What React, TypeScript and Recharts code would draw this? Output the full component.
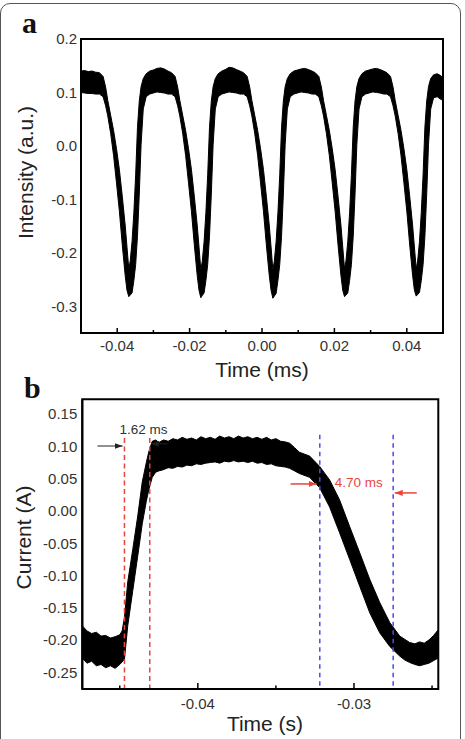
import React from 'react';
import {
  ComposedChart,
  Area,
  XAxis,
  YAxis,
  ReferenceLine,
  ReferenceArea,
  ReferenceDot,
  Label,
} from 'recharts';

// ---------- Panel a: intensity trace (time in ms), lower / upper edge of the noisy band ----------
const intensityTime = [
  -0.05, -0.049, -0.048, -0.047, -0.046,
  -0.0449, -0.0439, -0.0432, -0.0426, -0.0418, -0.041, -0.0402, -0.0394, -0.0386, -0.0378, -0.0373,
  -0.0368, -0.0364, -0.0359, -0.0354, -0.0349, -0.0344, -0.0339, -0.0334, -0.0328, -0.032, -0.031,
  -0.03, -0.029, -0.028, -0.027, -0.026,
  -0.025, -0.024, -0.0233, -0.0227, -0.0219, -0.0211, -0.0203, -0.0195, -0.0187, -0.0179, -0.0174,
  -0.0169, -0.0165, -0.016, -0.0155, -0.015, -0.0145, -0.014, -0.0135, -0.0129, -0.0121, -0.0111,
  -0.0101, -0.0091, -0.0081, -0.0071, -0.0061,
  -0.0051, -0.0041, -0.0034, -0.0028, -0.002, -0.0012, -0.0004, 0.0004, 0.0012, 0.002, 0.0025,
  0.003, 0.0034, 0.0039, 0.0044, 0.0049, 0.0054, 0.0059, 0.0064, 0.007, 0.0078, 0.0088,
  0.0098, 0.0108, 0.0118, 0.0128, 0.0138,
  0.0147, 0.0157, 0.0164, 0.017, 0.0178, 0.0186, 0.0194, 0.0202, 0.021, 0.0218, 0.0223,
  0.0228, 0.0232, 0.0237, 0.0242, 0.0247, 0.0252, 0.0257, 0.0262, 0.0268, 0.0276, 0.0286,
  0.0296, 0.0306, 0.0316, 0.0326, 0.0336,
  0.0345, 0.0355, 0.0362, 0.0368, 0.0376, 0.0384, 0.0392, 0.04, 0.0408, 0.0416, 0.0421,
  0.0426, 0.043, 0.0435, 0.044, 0.0445, 0.045, 0.0455, 0.046, 0.0466, 0.0474, 0.0484,
  0.0492, 0.05,
];
const intensityLower = [
  0.1, 0.099, 0.098, 0.098, 0.097,
  0.097, 0.092, 0.075, 0.056, 0.023, -0.018, -0.069, -0.122, -0.185, -0.242, -0.27,
  -0.282, -0.279, -0.275, -0.252, -0.222, -0.169, -0.09, 0.003, 0.069, 0.092, 0.097,
  0.099, 0.101, 0.1, 0.099, 0.097,
  0.097, 0.092, 0.075, 0.056, 0.023, -0.018, -0.069, -0.122, -0.185, -0.242, -0.27,
  -0.284, -0.28, -0.275, -0.252, -0.222, -0.169, -0.09, 0.003, 0.069, 0.092, 0.097,
  0.099, 0.101, 0.1, 0.099, 0.097,
  0.097, 0.092, 0.075, 0.056, 0.023, -0.018, -0.069, -0.122, -0.185, -0.242, -0.27,
  -0.285, -0.281, -0.276, -0.252, -0.222, -0.169, -0.09, 0.003, 0.069, 0.092, 0.097,
  0.099, 0.101, 0.1, 0.099, 0.097,
  0.097, 0.092, 0.075, 0.056, 0.023, -0.018, -0.069, -0.122, -0.185, -0.242, -0.27,
  -0.282, -0.279, -0.275, -0.252, -0.222, -0.169, -0.09, 0.003, 0.069, 0.092, 0.097,
  0.099, 0.101, 0.1, 0.099, 0.097,
  0.097, 0.092, 0.075, 0.056, 0.023, -0.018, -0.069, -0.122, -0.185, -0.242, -0.27,
  -0.281, -0.278, -0.274, -0.252, -0.222, -0.169, -0.09, 0.003, 0.069, 0.09, 0.092,
  0.088, 0.085,
];
const intensityUpper = [
  0.14, 0.141, 0.139, 0.14, 0.138,
  0.137, 0.13, 0.11, 0.085, 0.057, 0.029, -0.005, -0.044, -0.094, -0.148, -0.189,
  -0.23, -0.215, -0.179, -0.125, -0.054, 0.035, 0.084, 0.111, 0.126, 0.135, 0.14,
  0.142, 0.145, 0.146, 0.144, 0.14,
  0.137, 0.13, 0.11, 0.085, 0.057, 0.029, -0.005, -0.044, -0.094, -0.148, -0.189,
  -0.232, -0.216, -0.179, -0.125, -0.054, 0.035, 0.084, 0.111, 0.126, 0.135, 0.14,
  0.143, 0.147, 0.146, 0.143, 0.14,
  0.137, 0.13, 0.11, 0.085, 0.057, 0.029, -0.005, -0.044, -0.094, -0.148, -0.189,
  -0.232, -0.216, -0.179, -0.125, -0.054, 0.035, 0.084, 0.111, 0.126, 0.135, 0.14,
  0.142, 0.144, 0.145, 0.143, 0.14,
  0.137, 0.13, 0.11, 0.085, 0.057, 0.029, -0.005, -0.044, -0.094, -0.148, -0.189,
  -0.23, -0.215, -0.179, -0.125, -0.054, 0.035, 0.084, 0.111, 0.126, 0.135, 0.14,
  0.142, 0.144, 0.145, 0.143, 0.14,
  0.137, 0.13, 0.11, 0.085, 0.057, 0.029, -0.005, -0.044, -0.094, -0.148, -0.189,
  -0.23, -0.215, -0.179, -0.125, -0.054, 0.035, 0.084, 0.111, 0.126, 0.133, 0.135,
  0.132, 0.128,
];
const intensityTicksX = [-0.04, -0.03, -0.02, -0.01, 0, 0.01, 0.02, 0.03, 0.04];
const intensityLabelledX = [-0.04, -0.02, 0, 0.02, 0.04];
const intensityTicksY = [-0.3, -0.2, -0.1, 0, 0.1, 0.2];

// ---------- Panel b: current trace (time in s), lower / upper edge of the noisy band ----------
const currentTime = [
  -0.0474, -0.0471, -0.0468, -0.0465, -0.0462, -0.0459, -0.0456, -0.0453, -0.045, -0.04485,
  -0.0447, -0.04449, -0.04417, -0.04385, -0.04356, -0.0433, -0.04314, -0.04292, -0.0427,
  -0.0425, -0.0422, -0.0419, -0.0416, -0.0413, -0.041, -0.0407, -0.0404, -0.0401, -0.0398,
  -0.0395, -0.0392, -0.0389, -0.0386, -0.0383, -0.038, -0.0377, -0.0374, -0.0371, -0.0368,
  -0.0365, -0.0362, -0.0359, -0.0356, -0.0353, -0.035, -0.0347, -0.0344, -0.03412,
  -0.0338, -0.0335, -0.03284, -0.0322, -0.03156, -0.03092, -0.03028, -0.02963, -0.02899, -0.02835,
  -0.02771, -0.02707, -0.02675, -0.02643, -0.0261, -0.0258, -0.0255, -0.0252, -0.0249, -0.0246,
];
const currentLower = [
  -0.228, -0.236, -0.233, -0.24, -0.238, -0.243, -0.24, -0.244, -0.238, -0.234,
  -0.23, -0.178, -0.124, -0.07, -0.02, 0.015, 0.033, 0.052, 0.06,
  0.062, 0.064, 0.067, 0.066, 0.069, 0.068, 0.071, 0.07, 0.073, 0.072,
  0.074, 0.075, 0.076, 0.074, 0.077, 0.076, 0.078, 0.076, 0.077, 0.075,
  0.077, 0.074, 0.075, 0.072, 0.073, 0.07, 0.069, 0.068, 0.066,
  0.062, 0.058, 0.052, 0.036, 0.006, -0.034, -0.075, -0.117, -0.158, -0.189,
  -0.21, -0.225, -0.231, -0.235, -0.238, -0.24, -0.238, -0.236, -0.232, -0.228,
];
const currentUpper = [
  -0.178, -0.186, -0.19, -0.188, -0.194, -0.193, -0.197, -0.195, -0.192, -0.186,
  -0.165, -0.11, -0.06, -0.008, 0.045, 0.075, 0.092, 0.108, 0.11,
  0.106, 0.11, 0.108, 0.112, 0.11, 0.114, 0.111, 0.113, 0.11, 0.115,
  0.112, 0.114, 0.111, 0.116, 0.113, 0.115, 0.112, 0.116, 0.113, 0.115,
  0.112, 0.114, 0.111, 0.114, 0.11, 0.112, 0.108, 0.107, 0.105,
  0.098, 0.091, 0.085, 0.069, 0.048, 0.017, -0.024, -0.065, -0.106, -0.142,
  -0.173, -0.194, -0.199, -0.204, -0.206, -0.203, -0.205, -0.2, -0.193, -0.184,
];
const currentTicksX = [-0.045, -0.04, -0.035, -0.03, -0.025];
const currentLabelledX = [-0.04, -0.03];
const currentTicksY = [-0.25, -0.2, -0.15, -0.1, -0.05, 0, 0.05, 0.1, 0.15];

// rise time (10 %–90 %) and fall time markers, in s
const riseMarkers = [-0.0447, -0.04308];
const fallMarkers = [-0.03219, -0.02749];
const riseLabel = '1.62 ms';
const fallLabel = '4.70 ms';

const FONT = '"Liberation Sans", Arial, Helvetica, sans-serif';
const TICK_COLOR = '#333';
const TITLE_COLOR = '#222';
const RED = '#e8453c';
const BLUE = '#4b4be6';

const buildRows = (time: number[], lower: number[], upper: number[]) =>
  time.map((t, i) => ({ t, band: [lower[i], upper[i]] }));

const intensityRows = buildRows(intensityTime, intensityLower, intensityUpper);
const currentRows = buildRows(currentTime, currentLower, currentUpper);

const near = (a: number, b: number) => Math.abs(a - b) < 1e-9;

// bottom axis tick: short inward mark, label only on the major ticks
const makeBottomTick =
  (labelled: number[], digits: number, majorLen: number, minorLen: number, labelDy: number) =>
  (props: any) => {
    const { x, y, payload } = props;
    const v = payload.value as number;
    const major = labelled.some((l) => near(l, v));
    return (
      <g>
        <line x1={x} x2={x} y1={y} y2={y - (major ? majorLen : minorLen)} stroke="#000" strokeWidth={1.5} />
        {major && (
          <text x={x} y={y + labelDy} textAnchor="middle" fontSize={15} fontFamily={FONT} fill={TICK_COLOR}>
            {v.toFixed(digits)}
          </text>
        )}
      </g>
    );
  };

const title = (text: string, x: number, y: number, rotate: boolean) => () =>
  (
    <text
      x={x}
      y={y}
      textAnchor="middle"
      fontSize={21}
      fontFamily={FONT}
      fill={TITLE_COLOR}
      transform={rotate ? `rotate(-90 ${x} ${y})` : undefined}
    >
      {text}
    </text>
  );

const yTickStyle = { fontSize: 15, fill: TICK_COLOR, fontFamily: FONT };
const axisLineStyle = { stroke: '#000', strokeWidth: 2 };

function IntensityPanel() {
  return (
    <ComposedChart
      width={465}
      height={385}
      data={intensityRows}
      margin={{ top: 39, right: 22, bottom: 0, left: 0 }}
    >
      <XAxis
        dataKey="t"
        type="number"
        domain={[-0.05, 0.05]}
        allowDataOverflow
        ticks={intensityTicksX}
        interval={0}
        tickLine={false}
        tickSize={0}
        tickMargin={0}
        height={52}
        axisLine={axisLineStyle}
        tick={makeBottomTick(intensityLabelledX, 2, 5, 3, 18)}
      >
        <Label content={title('Time (ms)', 262, 376.5, false)} />
      </XAxis>
      <YAxis
        type="number"
        domain={[-0.35, 0.2]}
        allowDataOverflow
        ticks={intensityTicksY}
        interval={0}
        tickFormatter={(v: number) => v.toFixed(1)}
        tickLine={false}
        tickSize={0}
        tickMargin={4}
        width={81}
        axisLine={axisLineStyle}
        tick={yTickStyle}
      >
        <Label content={title('Intensity (a.u.)', 33, 172.5, true)} />
      </YAxis>
      <Area
        type="linear"
        dataKey="band"
        stroke="#000"
        strokeWidth={1}
        fill="#000"
        fillOpacity={1}
        dot={false}
        activeDot={false}
        isAnimationActive={false}
      />
      <ReferenceArea
        x1={-0.05}
        x2={0.05}
        y1={-0.35}
        y2={0.2}
        fill="none"
        fillOpacity={0}
        stroke="#000"
        strokeWidth={2}
        ifOverflow="visible"
      />
    </ComposedChart>
  );
}

function CurrentPanel() {
  return (
    <ComposedChart
      width={465}
      height={369}
      data={currentRows}
      margin={{ top: 29.3, right: 26.7, bottom: 0, left: 0 }}
    >
      <defs>
        <marker id="headDark" viewBox="0 0 8 6" refX="8" refY="3" markerWidth="8" markerHeight="6" markerUnits="userSpaceOnUse" orient="auto">
          <path d="M0,0 L8,3 L0,6 z" fill="#222" />
        </marker>
        <marker id="headRed" viewBox="0 0 8 6" refX="8" refY="3" markerWidth="8" markerHeight="6" markerUnits="userSpaceOnUse" orient="auto">
          <path d="M0,0 L8,3 L0,6 z" fill={RED} />
        </marker>
      </defs>
      <XAxis
        dataKey="t"
        type="number"
        domain={[-0.0474, -0.0246]}
        allowDataOverflow
        ticks={currentTicksX}
        interval={0}
        tickLine={false}
        tickSize={0}
        tickMargin={0}
        height={50}
        axisLine={axisLineStyle}
        tick={makeBottomTick(currentLabelledX, 2, 6, 3.5, 20)}
      >
        <Label content={title('Time (s)', 265, 360.5, false)} />
      </XAxis>
      <YAxis
        type="number"
        domain={[-0.276, 0.173]}
        allowDataOverflow
        ticks={currentTicksY}
        interval={0}
        tickFormatter={(v: number) => v.toFixed(2)}
        tickLine={false}
        tickSize={0}
        tickMargin={5}
        width={82.3}
        axisLine={axisLineStyle}
        tick={yTickStyle}
      >
        <Label content={title('Current (A)', 31, 167.5, true)} />
      </YAxis>
      <Area
        type="linear"
        dataKey="band"
        stroke="#000"
        strokeWidth={1}
        fill="#000"
        fillOpacity={1}
        dot={false}
        activeDot={false}
        isAnimationActive={false}
      />
      {riseMarkers.map((x) => (
        <ReferenceLine
          key={`r${x}`}
          segment={[{ x, y: 0.113 }, { x, y: -0.276 }]}
          stroke={RED}
          strokeWidth={1.5}
          strokeDasharray="5 3.5"
          ifOverflow="visible"
        />
      ))}
      {fallMarkers.map((x) => (
        <ReferenceLine
          key={`f${x}`}
          segment={[{ x, y: 0.118 }, { x, y: -0.276 }]}
          stroke={BLUE}
          strokeWidth={1.5}
          strokeDasharray="4.5 4"
          ifOverflow="visible"
        />
      ))}
      <ReferenceLine
        segment={[{ x: -0.04643, y: 0.1006 }, { x: riseMarkers[0] - 0.00012, y: 0.1006 }]}
        stroke="#222"
        strokeWidth={1}
        markerEnd="url(#headDark)"
        ifOverflow="visible"
      />
      <ReferenceLine
        segment={[{ x: -0.04194, y: 0.104 }, { x: riseMarkers[1] + 0.0001, y: 0.104 }]}
        stroke="#222"
        strokeWidth={1}
        markerEnd="url(#headDark)"
        ifOverflow="visible"
      />
      <ReferenceLine
        segment={[{ x: -0.03406, y: 0.0418 }, { x: fallMarkers[0] - 0.0002, y: 0.0418 }]}
        stroke={RED}
        strokeWidth={1.5}
        markerEnd="url(#headRed)"
        ifOverflow="visible"
      />
      <ReferenceLine
        segment={[{ x: -0.02598, y: 0.0279 }, { x: fallMarkers[1] + 0.0001, y: 0.0279 }]}
        stroke={RED}
        strokeWidth={1.5}
        markerEnd="url(#headRed)"
        ifOverflow="visible"
      />
      <ReferenceDot
        x={-0.04348}
        y={0.1259}
        r={0}
        fill="none"
        stroke="none"
        ifOverflow="visible"
        label={{ value: riseLabel, position: 'center', fill: '#333', fontSize: 13.5, fontFamily: FONT }}
      />
      <ReferenceDot
        x={-0.0297}
        y={0.0438}
        r={0}
        fill="none"
        stroke="none"
        ifOverflow="visible"
        label={{ value: fallLabel, position: 'center', fill: RED, fontSize: 13.5, fontFamily: FONT }}
      />
      <ReferenceArea
        x1={-0.0474}
        x2={-0.0246}
        y1={-0.276}
        y2={0.173}
        fill="none"
        fillOpacity={0}
        stroke="#000"
        strokeWidth={2}
        ifOverflow="visible"
      />
    </ComposedChart>
  );
}

export default function App() {
  return (
    <div style={{ position: 'absolute', left: 0, top: 0, width: 465, height: 739, overflow: 'hidden', background: '#fff' }}>
      <div
        style={{
          position: 'absolute',
          left: 0,
          top: 3,
          width: 461,
          height: 760,
          border: '1.5px solid #555',
          borderRadius: 10,
          boxSizing: 'border-box',
        }}
      />
      <div style={{ position: 'absolute', left: 0, top: 0 }}>
        <IntensityPanel />
      </div>
      <div style={{ position: 'absolute', left: 0, top: 370 }}>
        <CurrentPanel />
      </div>
      <svg width={465} height={739} style={{ position: 'absolute', left: 0, top: 0, pointerEvents: 'none' }}>
        <text x={22} y={32.5} fontFamily='"Liberation Serif", "Times New Roman", serif' fontWeight="bold" fontSize={30} fill="#111">
          a
        </text>
        <text x={24} y={398} fontFamily='"Liberation Serif", "Times New Roman", serif' fontWeight="bold" fontSize={30} fill="#111">
          b
        </text>
      </svg>
    </div>
  );
}
